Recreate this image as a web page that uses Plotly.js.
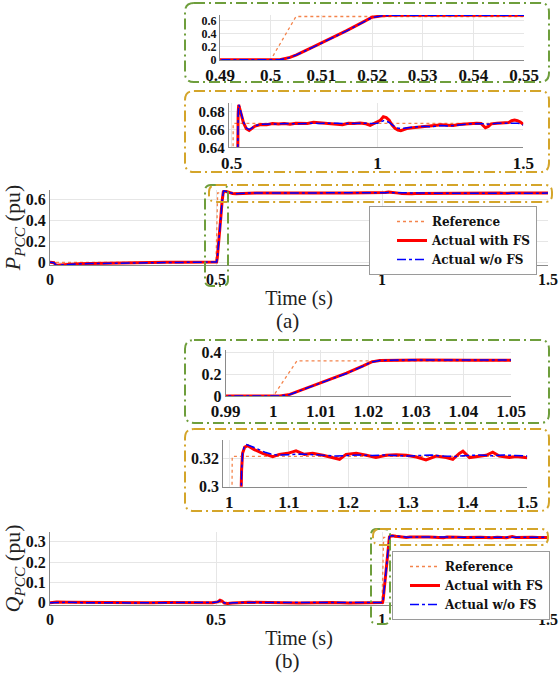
<!DOCTYPE html>
<html><head><meta charset="utf-8">
<script src="https://cdn.plot.ly/plotly-3.0.1.min.js"></script>
<style>html,body{margin:0;padding:0;background:#fff}</style>
</head><body><div id="chart" style="width:559px;height:680px"></div>
<script>
// ---------- DATA: panel (a) active power P_PCC ----------
const tRefP = [0, 0.5, 0.505, 1.5];
const pRef  = [0, 0, 0.667, 0.667];
const tP = [0, 0.005, 0.012, 0.018, 0.025, 0.04, 0.06, 0.09, 0.12, 0.16, 0.2, 0.25, 0.3, 0.35, 0.4, 0.45, 0.49, 0.5,
  0.5018, 0.5038, 0.5051, 0.5084, 0.5117, 0.515, 0.5183, 0.52, 0.522, 0.524, 0.527, 0.532, 0.54, 0.55, 0.56, 0.57, 0.58,
  0.60, 0.62, 0.64, 0.66, 0.68, 0.70, 0.72, 0.74, 0.76, 0.78, 0.80, 0.82, 0.84, 0.86, 0.88, 0.90, 0.92, 0.94, 0.96, 0.975, 0.99,
  1.00, 1.01, 1.02, 1.03, 1.04, 1.05, 1.06, 1.07, 1.08, 1.09, 1.10, 1.12, 1.14, 1.16, 1.18, 1.20, 1.22, 1.24, 1.26, 1.28, 1.30,
  1.32, 1.34, 1.355, 1.365, 1.37, 1.38, 1.39, 1.41, 1.43, 1.45, 1.46, 1.47, 1.48, 1.49, 1.50];
const pWithFS = [0.000, 0.000, -0.004, -0.028, -0.026, -0.022, -0.018, -0.014, -0.012, -0.009, -0.007, -0.004, -0.002, 0.000, 0.001, 0.002, 0.002, 0.002,
  0.003, 0.040, 0.080, 0.200, 0.320, 0.450, 0.585, 0.655, 0.678, 0.688, 0.685, 0.678, 0.668, 0.661, 0.659, 0.661, 0.664,
  0.6657, 0.6655, 0.6668, 0.6662, 0.6668, 0.6660, 0.6672, 0.6675, 0.6670, 0.6682, 0.6676, 0.6675, 0.6668, 0.6662, 0.6655, 0.6672, 0.6668, 0.6675, 0.6665, 0.6648, 0.6672,
  0.6680, 0.6705, 0.6745, 0.6735, 0.6705, 0.6650, 0.6615, 0.6595, 0.6588, 0.6600, 0.6612, 0.6620, 0.6628, 0.6635, 0.6640, 0.6648, 0.6655, 0.6650, 0.6645, 0.6658, 0.6664,
  0.6668, 0.6672, 0.6670, 0.6640, 0.6620, 0.6635, 0.6665, 0.6672, 0.6675, 0.6680, 0.6700, 0.6708, 0.6700, 0.6685, 0.6660];
const pWoFS = [0.000, 0.000, -0.005, -0.029, -0.027, -0.023, -0.019, -0.015, -0.012, -0.010, -0.007, -0.005, -0.002, -0.001, 0.001, 0.002, 0.002, 0.002,
  0.003, 0.038, 0.078, 0.197, 0.316, 0.446, 0.581, 0.652, 0.677, 0.688, 0.686, 0.679, 0.669, 0.662, 0.660, 0.662, 0.6645,
  0.6660, 0.6662, 0.6660, 0.6668, 0.6662, 0.6668, 0.6665, 0.6670, 0.6668, 0.6672, 0.6670, 0.6672, 0.6668, 0.6672, 0.6668, 0.6670, 0.6672, 0.6670, 0.6672, 0.6668, 0.6670,
  0.6672, 0.6685, 0.6700, 0.6695, 0.6680, 0.6655, 0.6630, 0.6618, 0.6612, 0.6615, 0.6622, 0.6628, 0.6632, 0.6638, 0.6632, 0.6640, 0.6645, 0.6640, 0.6648, 0.6655, 0.6660,
  0.6665, 0.6668, 0.6670, 0.6665, 0.6658, 0.6662, 0.6668, 0.6672, 0.6670, 0.6672, 0.6675, 0.6678, 0.6672, 0.6665, 0.6650];

// ---------- DATA: panel (b) reactive power Q_PCC ----------
const tRefQ = [0, 1.0, 1.005, 1.5];
const qRef  = [0, 0, 0.3215, 0.3215];
const tQWith = [0, 0.02, 0.05, 0.1, 0.15, 0.2, 0.25, 0.3, 0.35, 0.4, 0.45, 0.49, 0.505, 0.512, 0.518, 0.525, 0.535, 0.55,
  0.6, 0.65, 0.7, 0.75, 0.8, 0.85, 0.9, 0.95, 0.99, 1.0,
  1.0014, 1.0035, 1.0056, 1.0084, 1.0119, 1.0154, 1.0189, 1.0207, 1.0224, 1.026, 1.031, 1.042, 1.056, 1.073, 1.084, 1.098,
  1.112, 1.126, 1.14, 1.157, 1.174, 1.185, 1.196, 1.213, 1.23, 1.246, 1.263, 1.28, 1.297, 1.314, 1.33, 1.347, 1.364, 1.375,
  1.386, 1.392, 1.403, 1.414, 1.431, 1.442, 1.453, 1.47, 1.481, 1.5];
const qWithFS = [0.000, 0.003, 0.002, 0.001, 0.000, 0.001, -0.001, 0.000, 0.001, 0.000, 0.001, 0.000, 0.004, 0.012, 0.008, -0.002, -0.004, -0.001,
  0.002, 0.000, 0.001, -0.001, 0.000, 0.001, -0.002, 0.000, -0.001, 0.000,
  0.001, 0.015, 0.049, 0.092, 0.147, 0.208, 0.275, 0.312, 0.324, 0.3282, 0.3292, 0.3264, 0.3237, 0.3214, 0.3230, 0.3237,
  0.3255, 0.3230, 0.3237, 0.3223, 0.3207, 0.3195, 0.3230, 0.3237, 0.3223, 0.3207, 0.3223, 0.3228, 0.3223, 0.3211, 0.3191, 0.3218, 0.3207, 0.3195,
  0.3237, 0.3253, 0.3207, 0.3214, 0.3223, 0.3246, 0.3218, 0.3207, 0.3214, 0.3205];
const tQWo = [0, 0.02, 0.05, 0.1, 0.15, 0.2, 0.25, 0.3, 0.35, 0.4, 0.45, 0.49, 0.505, 0.512, 0.518, 0.525, 0.535, 0.55,
  0.6, 0.65, 0.7, 0.75, 0.8, 0.85, 0.9, 0.95, 0.99, 1.0,
  1.0014, 1.0035, 1.0056, 1.0084, 1.0119, 1.0154, 1.0189, 1.0207, 1.0224, 1.025, 1.029, 1.04, 1.05, 1.06, 1.07, 1.08,
  1.1, 1.12, 1.14, 1.16, 1.18, 1.2, 1.22, 1.24, 1.26, 1.28, 1.3, 1.32, 1.34, 1.36, 1.38, 1.4, 1.42, 1.44, 1.46, 1.48, 1.5];
const qWoFS = [0.000, 0.002, 0.002, 0.000, 0.001, 0.000, -0.001, 0.001, 0.000, 0.001, 0.000, 0.001, 0.003, 0.010, 0.007, -0.001, -0.003, 0.000,
  0.001, 0.001, 0.000, 0.000, 0.001, 0.000, -0.001, 0.001, 0.000, 0.000,
  0.001, 0.014, 0.047, 0.090, 0.145, 0.206, 0.273, 0.311, 0.324, 0.3285, 0.3299, 0.3282, 0.3262, 0.3245, 0.3232, 0.3225,
  0.3228, 0.3232, 0.3228, 0.3225, 0.3218, 0.3222, 0.3225, 0.3222, 0.3225, 0.3222, 0.3218, 0.3222, 0.3225, 0.3218, 0.3215, 0.3222, 0.3225, 0.3220, 0.3225, 0.3222, 0.3218];

// ---------- TICKS ----------
const mainXTicks = [0, 0.5, 1, 1.5];          const mainXText = ['0', '0.5', '1', '1.5'];
const mainPTicks = [0, 0.2, 0.4, 0.6];        const mainPText = ['0', '0.2', '0.4', '0.6'];
const mainQTicks = [0, 0.1, 0.2, 0.3];        const mainQText = ['0', '0.1', '0.2', '0.3'];
const zoomP1XTicks = [0.49, 0.5, 0.51, 0.52, 0.53, 0.54, 0.55]; const zoomP1XText = ['0.49', '0.5', '0.51', '0.52', '0.53', '0.54', '0.55'];
const zoomP1YTicks = [0, 0.2, 0.4, 0.6];      const zoomP1YText = ['0', '0.2', '0.4', '0.6'];
const zoomP2XTicks = [0.5, 1, 1.5];           const zoomP2XText = ['0.5', '1', '1.5'];
const zoomP2YTicks = [0.64, 0.66, 0.68];      const zoomP2YText = ['0.64', '0.66', '0.68'];
const zoomQ1XTicks = [0.99, 1, 1.01, 1.02, 1.03, 1.04, 1.05]; const zoomQ1XText = ['0.99', '1', '1.01', '1.02', '1.03', '1.04', '1.05'];
const zoomQ1YTicks = [0, 0.2, 0.4];           const zoomQ1YText = ['0', '0.2', '0.4'];
const zoomQ2XTicks = [1, 1.1, 1.2, 1.3, 1.4, 1.5]; const zoomQ2XText = ['1', '1.1', '1.2', '1.3', '1.4', '1.5'];
const zoomQ2YTicks = [0.3, 0.32];             const zoomQ2YText = ['0.3', '0.32'];
const seriesNames = ['Reference', 'Actual with FS', 'Actual w/o FS'];

// ---------- STYLE ----------
const W = 559, H = 680;
const SERIF = '"Liberation Serif", "Times New Roman", serif';
const refLine = {color: '#F4844C', width: 1.3, dash: 'dot'};
const withLine = {color: '#FF0000', width: 3};
const woLine = {color: '#0000FF', width: 1.5, dash: 'dashdot'};
const bold = s => '<b>' + s + '</b>';

function px2x(v) { return v / W; }
function px2y(v) { return 1 - v / H; }

const traces = [];
function addSet(xa, ya, legendId, tr, r, tw, w, to, o) {
  const show = !!legendId;
  const common = {type: 'scatter', mode: 'lines', xaxis: xa, yaxis: ya, showlegend: show, hoverinfo: 'skip'};
  if (legendId) common.legend = legendId;
  traces.push(Object.assign({x: tr, y: r, name: bold(seriesNames[0]), line: refLine}, common));
  traces.push(Object.assign({x: tw, y: w, name: bold(seriesNames[1]), line: withLine}, common));
  traces.push(Object.assign({x: to, y: o, name: bold(seriesNames[2]), line: woLine}, common));
}
addSet('x', 'y', 'legend', tRefP, pRef, tP, pWithFS, tP, pWoFS);
addSet('x2', 'y2', null, tRefP, pRef, tP, pWithFS, tP, pWoFS);
addSet('x3', 'y3', null, tRefP, pRef, tP, pWithFS, tP, pWoFS);
addSet('x4', 'y4', 'legend2', tRefQ, qRef, tQWith, qWithFS, tQWo, qWoFS);
addSet('x5', 'y5', null, tRefQ, qRef, tQWith, qWithFS, tQWo, qWoFS);
addSet('x6', 'y6', null, tRefQ, qRef, tQWith, qWithFS, tQWo, qWoFS);

function ax(anchor, dom, rng, tv, tt, fs, extra) {
  return Object.assign({
    anchor: anchor, domain: dom, range: rng, tickvals: tv, ticktext: tt.map(bold),
    tickfont: {family: SERIF, size: fs, color: '#111'},
    showline: true, linecolor: '#8a8a8a', linewidth: 1, mirror: false,
    showgrid: true, gridcolor: '#e6e6e6', gridwidth: 1, zeroline: false,
    ticks: '', fixedrange: true, automargin: false
  }, extra || {});
}
const xTitle = {text: 'Time (s)', font: {family: SERIF, size: 20, color: '#222'}, standoff: 3};

function rr(x0, y0, x1, y1, r) {
  const X = v => px2x(v).toFixed(5), Y = v => px2y(v).toFixed(5);
  return 'M' + X(x0 + r) + ',' + Y(y0) + ' L' + X(x1 - r) + ',' + Y(y0) +
    ' Q' + X(x1) + ',' + Y(y0) + ' ' + X(x1) + ',' + Y(y0 + r) +
    ' L' + X(x1) + ',' + Y(y1 - r) + ' Q' + X(x1) + ',' + Y(y1) + ' ' + X(x1 - r) + ',' + Y(y1) +
    ' L' + X(x0 + r) + ',' + Y(y1) + ' Q' + X(x0) + ',' + Y(y1) + ' ' + X(x0) + ',' + Y(y1 - r) +
    ' L' + X(x0) + ',' + Y(y0 + r) + ' Q' + X(x0) + ',' + Y(y0) + ' ' + X(x0 + r) + ',' + Y(y0) + ' Z';
}
const GREEN = '#6E9E3C', GOLD = '#D4A52A';
const DASH = '11px,4px,2px,4px';
function box(path, color) {
  return {type: 'path', xref: 'paper', yref: 'paper', path: path, line: {color: color, width: 2, dash: DASH}, fillcolor: 'rgba(0,0,0,0)'};
}

const legendBase = {
  xanchor: 'left', yanchor: 'top', bgcolor: '#ffffff', bordercolor: '#9a9a9a', borderwidth: 1,
  font: {family: '"DejaVu Serif", serif', size: 12, color: '#111'}, tracegroupgap: 0
};

const layout = {
  width: W, height: H, margin: {l: 0, r: 0, t: 0, b: 0},
  paper_bgcolor: '#fff', plot_bgcolor: '#fff', showlegend: true,
  xaxis:  ax('y',  [px2x(50), px2x(548)], [0, 1.5], mainXTicks, mainXText, 16, {title: xTitle}),
  yaxis:  ax('x',  [px2y(265), px2y(190)], [-0.026, 0.695], mainPTicks, mainPText, 16,
          {title: {text: '<i>P</i><sub><i>PCC</i></sub> (pu)', font: {family: SERIF, size: 22, color: '#222'}, standoff: 3}}),
  xaxis2: ax('y2', [px2x(220), px2x(524)], [0.49, 0.55], zoomP1XTicks, zoomP1XText, 17),
  yaxis2: ax('x2', [px2y(60), px2y(15)], [0, 0.69], zoomP1YTicks, zoomP1YText, 12),
  xaxis3: ax('y3', [px2x(228.8), px2x(523.3)], [0.49, 1.5], zoomP2XTicks, zoomP2XText, 17),
  yaxis3: ax('x3', [px2y(147.3), px2y(103)], [0.64, 0.69], zoomP2YTicks, zoomP2YText, 15),
  xaxis4: ax('y4', [px2x(50), px2x(548)], [0, 1.5], mainXTicks, mainXText, 16, {title: xTitle}),
  yaxis4: ax('x4', [px2y(605), px2y(532)], [-0.0113, 0.3478], mainQTicks, mainQText, 16,
          {title: {text: '<i>Q</i><sub><i>PCC</i></sub> (pu)', font: {family: SERIF, size: 22, color: '#222'}, standoff: 3}}),
  xaxis5: ax('y5', [px2x(225.7), px2x(511)], [0.99, 1.05], zoomQ1XTicks, zoomQ1XText, 17),
  yaxis5: ax('x5', [px2y(396), px2y(350)], [0, 0.42], zoomQ1YTicks, zoomQ1YText, 16),
  xaxis6: ax('y6', [px2x(223.3), px2x(527.3)], [0.99, 1.5], zoomQ2XTicks, zoomQ2XText, 17),
  yaxis6: ax('x6', [px2y(486.7), px2y(440)], [0.3, 0.3332], zoomQ2YTicks, zoomQ2YText, 16),
  legend:  Object.assign({}, legendBase, {x: px2x(369), y: px2y(206), indentation: 22}),
  legend2: Object.assign({}, legendBase, {x: px2x(392), y: px2y(551), indentation: 12}),
  shapes: [
    box(rr(185, 3, 549, 82, 9), GREEN),
    box(rr(185, 91, 549, 172, 9), GOLD),
    box(rr(205, 185, 228, 286, 6), GREEN),
    box(rr(209, 185, 552, 202, 7), GOLD),
    box(rr(185, 340, 549, 423, 9), GREEN),
    box(rr(185, 429, 549, 511, 9), GOLD),
    box(rr(371, 529, 390, 624, 6), GREEN),
    box(rr(373, 529, 548, 545, 7), GOLD)
  ],
  annotations: [
    {text: '(a)', xref: 'paper', yref: 'paper', x: px2x(287), y: px2y(321), showarrow: false,
     font: {family: SERIF, size: 21, color: '#222'}, xanchor: 'center', yanchor: 'middle'},
    {text: '(b)', xref: 'paper', yref: 'paper', x: px2x(287), y: px2y(661), showarrow: false,
     font: {family: SERIF, size: 21, color: '#222'}, xanchor: 'center', yanchor: 'middle'}
  ]
};

Plotly.newPlot('chart', traces, layout, {displayModeBar: false, staticPlot: true});
</script>
</body></html>
